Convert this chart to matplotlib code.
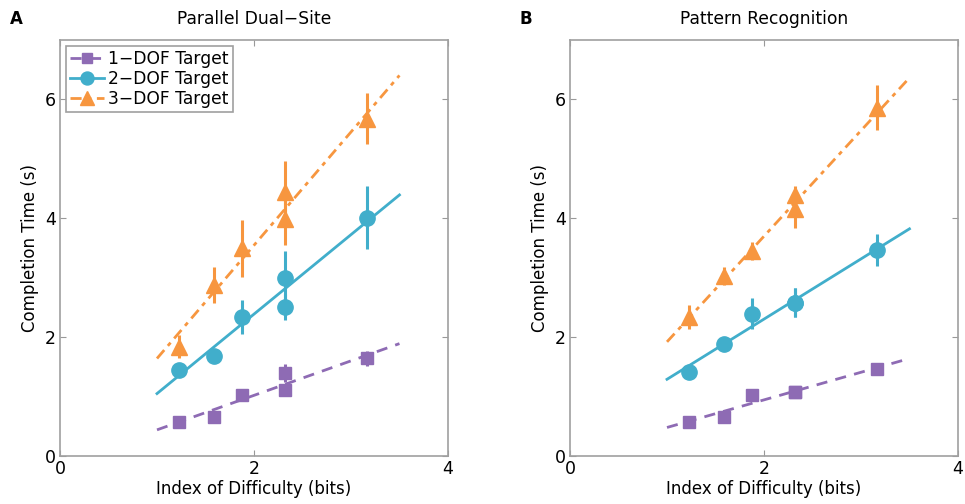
import matplotlib
matplotlib.use('Agg')
import matplotlib.pyplot as plt
import numpy as np

# Index of difficulty for each target condition (bits)
id_bits = [1.23, 1.59, 1.88, 2.32, 2.32, 3.17]
fit_x = [1.0, 3.5]

# Panel A: Parallel Dual-Site
a_dof1 = [0.58, 0.66, 1.03, 1.39, 1.11, 1.64]
a_dof1_err = [0.08, 0.08, 0.08, 0.15, 0.10, 0.12]
a_dof2 = [1.45, 1.69, 2.34, 2.99, 2.51, 4.01]
a_dof2_err = [0.08, 0.08, 0.28, 0.45, 0.22, 0.53]
a_dof3 = [1.84, 2.87, 3.49, 4.44, 3.99, 5.67]
a_dof3_err = [0.20, 0.30, 0.48, 0.52, 0.45, 0.43]
a_fit1 = [0.44, 1.89]
a_fit2 = [1.05, 4.39]
a_fit3 = [1.64, 6.40]

# Panel B: Pattern Recognition
b_dof1 = [0.58, 0.66, 1.03, 1.08, 1.08, 1.46]
b_dof1_err = [0.06, 0.06, 0.10, 0.10, 0.10, 0.06]
b_dof2 = [1.42, 1.89, 2.39, 2.58, 2.58, 3.47]
b_dof2_err = [0.06, 0.06, 0.26, 0.25, 0.25, 0.27]
b_dof3 = [2.34, 3.03, 3.45, 4.39, 4.16, 5.86]
b_dof3_err = [0.20, 0.15, 0.15, 0.15, 0.33, 0.38]
b_fit1 = [0.48, 1.64]
b_fit2 = [1.29, 3.82]
b_fit3 = [1.92, 6.36]

labels = ['1\u2212DOF Target', '2\u2212DOF Target', '3\u2212DOF Target']
colors = ['#8E6BB4', '#41AECB', '#F7963F']
markers = ['s', 'o', '^']
msizes = [9, 11, 12]
styles = [(0, (4, 3)), '-', (0, (4, 2, 1.5, 2))]

fig = plt.figure(figsize=(9.65, 5.04), dpi=100)
ax_a = fig.add_axes([0.0622, 0.0952, 0.402, 0.826])
ax_b = fig.add_axes([0.5907, 0.0952, 0.402, 0.826])

panels = [
    (ax_a, 'Parallel Dual\u2212Site', 'A',
     [a_dof1, a_dof2, a_dof3], [a_dof1_err, a_dof2_err, a_dof3_err], [a_fit1, a_fit2, a_fit3]),
    (ax_b, 'Pattern Recognition', 'B',
     [b_dof1, b_dof2, b_dof3], [b_dof1_err, b_dof2_err, b_dof3_err], [b_fit1, b_fit2, b_fit3]),
]

for ax, title, letter, means, errs, fits in panels:
    handles = []
    for i in range(3):
        ax.plot(fit_x, fits[i], color=colors[i], linestyle=styles[i], lw=2, zorder=2)
        ax.errorbar(id_bits, means[i], yerr=errs[i], fmt='none', ecolor=colors[i],
                    elinewidth=2.2, capsize=0, zorder=3)
        ax.plot(id_bits, means[i], linestyle='none', marker=markers[i], ms=msizes[i],
                color=colors[i], mec=colors[i], zorder=4)
        h, = ax.plot([], [], color=colors[i], linestyle=styles[i], lw=2,
                     marker=markers[i], ms=msizes[i] * 0.85, label=labels[i])
        handles.append(h)

    ax.set_xlim(0, 4)
    ax.set_ylim(0, 7)
    ax.set_xticks([0, 2, 4])
    ax.set_yticks([0, 2, 4, 6])
    ax.tick_params(direction='in', top=True, right=True, length=4, color='#999999',
                   labelsize=12.5, pad=3)
    for s in ax.spines.values():
        s.set_color('#A0A0A0')
        s.set_linewidth(1.2)
    ax.set_xlabel('Index of Difficulty (bits)', fontsize=12, labelpad=1)
    ax.set_ylabel('Completion Time (s)', fontsize=12, labelpad=4)
    ax.set_title(title, fontsize=12.3, pad=11)
    ax.text(-0.13, 1.05, letter, transform=ax.transAxes, fontsize=12,
            fontweight='bold', va='center', ha='left')
    if letter == 'A':
        leg = ax.legend(handles=handles, loc='upper left', fontsize=12.3, handlelength=2.0,
                        handletextpad=0.2, borderpad=0.25, labelspacing=0.12,
                        fancybox=False, framealpha=1, borderaxespad=0.35)
        leg.get_frame().set_edgecolor('#A0A0A0')
        leg.get_frame().set_linewidth(1.2)

fig.savefig('out.png', dpi=100)
